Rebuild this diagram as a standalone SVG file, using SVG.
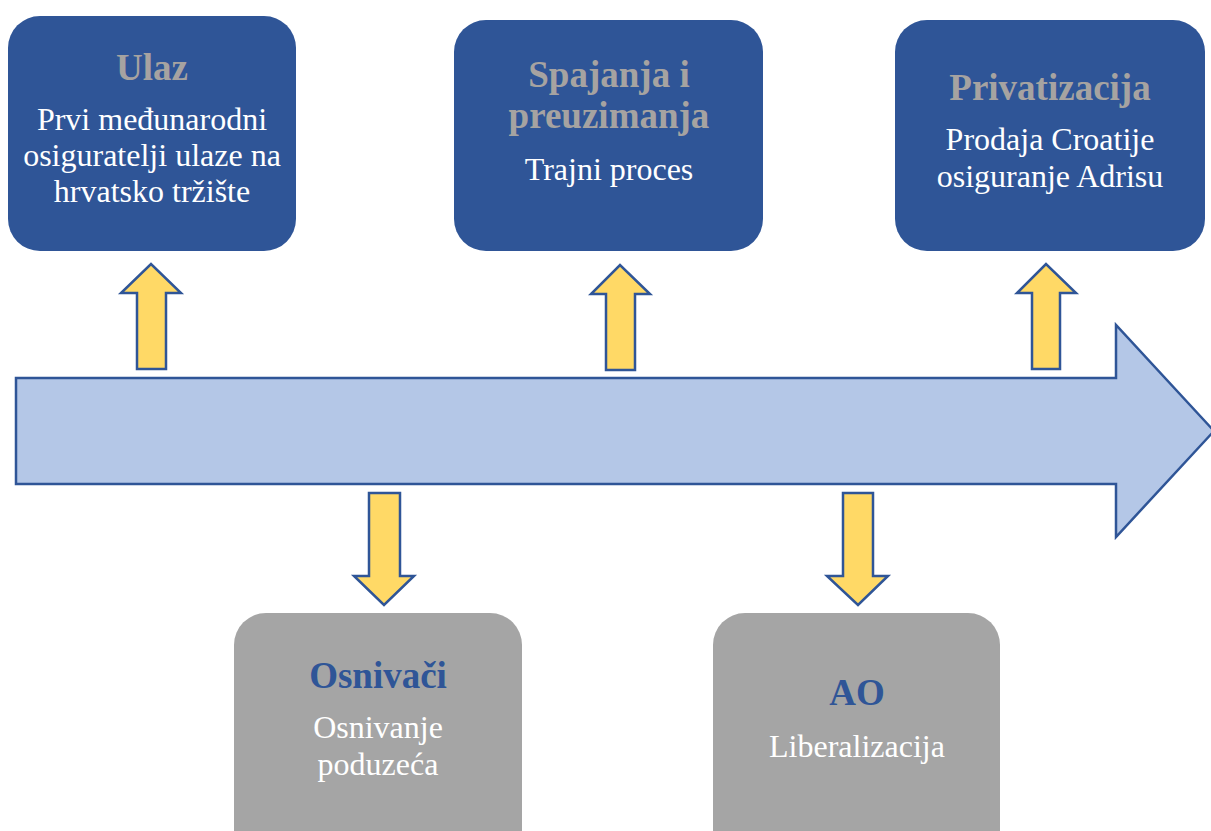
<svg xmlns="http://www.w3.org/2000/svg" width="1211" height="831" viewBox="0 0 1211 831">
<style>
.blue{fill:#2F5597}
.gray{fill:#A5A5A5}
.arr{fill:#FFD966;stroke:#2F5597;stroke-width:2.5;stroke-linejoin:miter}
.t{font-family:"Liberation Serif","Times New Roman",serif;text-anchor:middle}
.h{font-weight:bold;font-size:37px}
.hg{fill:#A6A3A1}
.hb{fill:#2F5597}
.b{font-size:32px;fill:#FFFFFF}
</style>
<rect width="1211" height="831" fill="#FFFFFF"/>
<g id="connectors">
<polygon id="timeline" points="16,378 1116,378 1116,325 1214,431 1116,537 1116,484 16,484" fill="#B4C7E7" stroke="#2F5597" stroke-width="2.5"/>
<polygon class="arr" points="137,369 137,293 121,293 151,264 181,293 166,293 166,369"/>
<polygon class="arr" points="606,370 606,294 591,294 620,265 650,294 635,294 635,370"/>
<polygon class="arr" points="1032,369 1032,293 1017,293 1046,264 1076,293 1060,293 1060,369"/>
<polygon class="arr" points="369,493 400,493 400,576 414,576 384,605 354,576 369,576"/>
<polygon class="arr" points="843,493 873,493 873,576 888,576 858,605 827,576 843,576"/>
</g>
<g id="node-ulaz">
<rect class="blue" x="8" y="16" width="288" height="235" rx="32"/>
<text class="t h hg" x="152" y="80">Ulaz</text>
<text class="t b" x="152" y="130">Prvi međunarodni</text>
<text class="t b" x="152" y="166">osiguratelji ulaze na</text>
<text class="t b" x="152" y="202">hrvatsko tržište</text>
</g>
<g id="node-spajanja">
<rect class="blue" x="454" y="20" width="309" height="231" rx="32"/>
<text class="t h hg" x="609" y="87">Spajanja i</text>
<text class="t h hg" x="609" y="128">preuzimanja</text>
<text class="t b" x="609" y="180">Trajni proces</text>
</g>
<g id="node-privatizacija">
<rect class="blue" x="895" y="20" width="310" height="231" rx="32"/>
<text class="t h hg" x="1050" y="100">Privatizacija</text>
<text class="t b" x="1050" y="150">Prodaja Croatije</text>
<text class="t b" x="1050" y="187">osiguranje Adrisu</text>
</g>
<g id="node-osnivaci">
<rect class="gray" x="234" y="613" width="288" height="250" rx="32"/>
<text class="t h hb" x="378" y="688">Osnivači</text>
<text class="t b" x="378" y="738">Osnivanje</text>
<text class="t b" x="378" y="775">poduzeća</text>
</g>
<g id="node-ao">
<rect class="gray" x="713" y="613" width="287" height="250" rx="32"/>
<text class="t h hb" x="857" y="705">AO</text>
<text class="t b" x="857" y="757">Liberalizacija</text>
</g>
</svg>
